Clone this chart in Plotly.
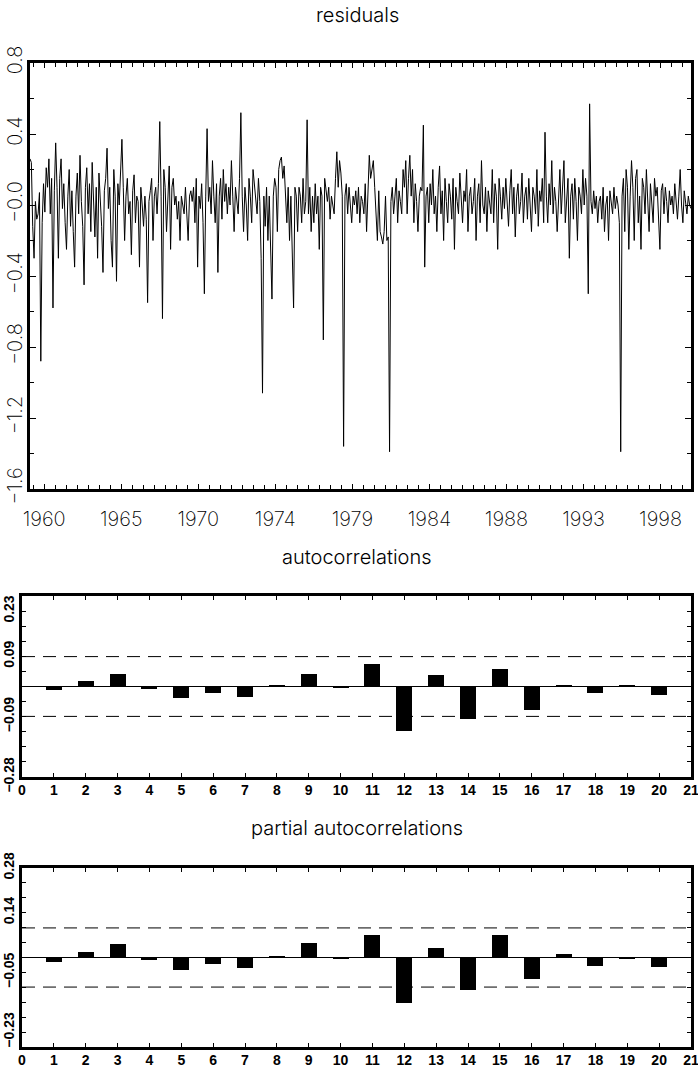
import plotly.graph_objects as go

# ---------------- data ----------------
START_YEAR = 1959
START_MONTH_OFFSET = 1.5  # months after Jan 1959 of first observation

residuals = [
    0.26, 0.24, -0.12, -0.30, 0.02, -0.08, -0.05, 0.07, -0.88, -0.10,
    0.12, -0.04, 0.21, 0.10, 0.26, -0.05, 0.15, -0.58, 0.08, 0.35,
    0.10, -0.30, 0.15, 0.26, -0.02, 0.12, -0.10, -0.25, 0.05, 0.20,
    -0.12, 0.08, -0.15, -0.35, 0.05, 0.18, -0.05, 0.28, 0.02, -0.12,
    -0.45, 0.10, 0.21, -0.05, 0.12, -0.15, 0.24, 0.00, -0.18, 0.10,
    -0.30, 0.18, 0.05, -0.12, -0.38, 0.08, 0.15, 0.32, -0.02, 0.10,
    -0.20, -0.35, 0.20, 0.05, -0.43, 0.12, 0.00, 0.22, 0.37, 0.10,
    -0.20, 0.05, 0.15, -0.05, 0.02, -0.28, 0.08, 0.17, -0.10, 0.05,
    0.02, -0.35, 0.10, 0.00, -0.12, 0.05, -0.08, -0.55, 0.02, 0.08,
    0.15, -0.20, 0.05, 0.10, -0.05, 0.12, 0.47, 0.05, -0.64, 0.20,
    0.10, -0.15, 0.05, 0.22, -0.25, 0.10, 0.15, 0.00, 0.05, -0.08,
    0.02, -0.20, 0.05, 0.00, -0.05, 0.10, -0.02, -0.20, 0.05, 0.08,
    0.02, 0.10, -0.10, 0.15, -0.35, 0.05, -0.02, 0.12, -0.10, -0.50,
    0.05, 0.43, 0.02, 0.10, -0.05, 0.25, 0.05, -0.10, 0.12, -0.38,
    0.05, 0.15, -0.08, 0.20, 0.02, 0.12, -0.05, 0.10, 0.00, 0.25,
    0.05, -0.15, 0.10, 0.02, -0.05, 0.15, 0.52, 0.05, -0.15, 0.10,
    0.00, -0.20, 0.15, 0.05, -0.10, 0.20, 0.10, 0.05, -0.05, 0.15,
    0.02, -0.30, -1.06, 0.05, -0.12, 0.10, -0.20, 0.05, -0.35, -0.53,
    0.05, 0.15, 0.10, -0.15, 0.20, 0.25, 0.27, 0.15, 0.22, 0.05,
    -0.10, 0.10, -0.20, 0.05, -0.25, -0.58, 0.10, 0.05, -0.15, 0.10,
    0.05, -0.10, 0.15, -0.05, 0.02, 0.48, -0.05, 0.10, -0.15, 0.05,
    -0.10, 0.12, -0.05, 0.05, -0.25, 0.10, 0.05, -0.76, 0.15, 0.08,
    0.02, 0.10, -0.08, 0.05, 0.00, -0.05, 0.15, 0.30, 0.10, 0.25,
    0.18, 0.05, -1.36, 0.05, 0.12, -0.05, 0.10, 0.02, -0.10, 0.05,
    0.00, 0.08, -0.05, 0.10, -0.10, 0.05, 0.02, -0.05, 0.12, -0.15,
    0.05, 0.28, 0.15, 0.20, 0.25, 0.10, -0.05, -0.20, 0.08, -0.15,
    -0.18, -0.22, -0.15, 0.05, -0.20, -0.18, -1.39, 0.02, 0.10, -0.05,
    0.05, 0.15, -0.10, 0.08, 0.02, -0.05, 0.20, 0.10, 0.25, -0.05,
    0.15, 0.28, 0.05, 0.20, -0.10, 0.12, 0.02, -0.15, 0.05, 0.10,
    0.08, 0.45, -0.35, 0.05, 0.10, -0.10, 0.12, 0.00, 0.20, -0.05,
    0.05, -0.15, 0.10, 0.22, -0.05, 0.08, -0.20, 0.15, 0.02, -0.10,
    0.12, 0.05, -0.08, 0.15, -0.25, 0.10, 0.02, -0.05, 0.18, 0.00,
    -0.10, 0.08, 0.02, 0.20, -0.15, 0.05, 0.10, -0.05, 0.02, 0.15,
    -0.20, 0.05, 0.12, -0.10, 0.25, 0.00, -0.05, 0.10, -0.15, 0.08,
    0.02, -0.05, 0.20, -0.10, 0.12, 0.05, -0.25, 0.15, 0.05, -0.08,
    0.10, -0.02, 0.15, 0.00, -0.12, 0.08, 0.20, -0.05, 0.10, -0.18,
    0.05, 0.12, -0.05, 0.02, 0.18, -0.10, 0.05, 0.10, -0.08, 0.15,
    0.00, -0.15, 0.10, 0.05, -0.05, 0.20, -0.12, 0.08, 0.02, 0.15,
    -0.10, 0.41, 0.05, -0.10, 0.12, 0.00, 0.25, -0.05, 0.10, 0.02,
    -0.15, 0.08, 0.20, -0.05, 0.10, 0.25, -0.10, 0.05, 0.15, -0.30,
    0.05, 0.12, -0.08, 0.15, 0.02, -0.20, 0.10, 0.05, -0.05, 0.20,
    0.00, 0.15, 0.05, -0.50, 0.57, 0.02, -0.05, 0.08, -0.02, 0.05,
    -0.10, 0.02, 0.05, -0.08, 0.10, -0.15, 0.00, 0.05, -0.20, 0.08,
    0.02, -0.05, 0.10, -0.02, 0.05, 0.00, -0.10, -1.39, 0.05, 0.15,
    -0.15, 0.20, 0.10, -0.25, 0.05, 0.25, 0.10, -0.20, 0.15, 0.20,
    -0.10, 0.05, -0.25, 0.15, 0.10, -0.05, 0.20, 0.05, -0.15, 0.12,
    0.02, -0.10, 0.15, 0.05, 0.10, -0.05, -0.25, 0.08, 0.12, -0.05,
    0.10, 0.02, -0.10, 0.08, 0.00, 0.05, -0.05, 0.12, 0.02, -0.08,
    0.05, 0.20, 0.00, -0.10, 0.08, 0.02, -0.05, 0.05, 0.00, -0.02,
]

year_tick_values = [1960.0, 1964.75, 1969.5, 1974.25, 1979.0, 1983.75, 1988.5, 1993.25, 1998.0]
year_tick_labels = ["1960", "1965", "1970", "1974", "1979", "1984", "1988", "1993", "1998"]
resid_tick_values = [-1.6, -1.2, -0.8, -0.4, 0.0, 0.4, 0.8]
resid_tick_labels = ["\u22121.6", "\u22121.2", "\u22120.8", "\u22120.4", "\u22120.0", "0.4", "0.8"]

lags = list(range(1, 21))
acf = [-0.012, 0.018, 0.040, -0.008, -0.037, -0.019, -0.033, 0.002, 0.039, -0.002,
       0.071, -0.137, 0.036, -0.100, 0.055, -0.072, 0.006, -0.020, 0.003, -0.026]
pacf = [-0.014, 0.017, 0.041, -0.008, -0.040, -0.021, -0.032, 0.003, 0.044, -0.002,
        0.069, -0.141, 0.031, -0.103, 0.071, -0.068, 0.010, -0.026, -0.004, -0.031]
conf_bound = 0.0925
corr_limit = 0.28
corr_step = 0.28 / 6
acf_labels = {5: "0.23", 2: "0.09", -2: "\u22120.09", -6: "\u22120.28"}
pacf_labels = {6: "0.28", 3: "0.14", -1: "\u22120.05", -5: "\u22120.23"}

# ---------------- figure ----------------
W, H = 698, 1067
def px_x(v):
    return v / W
def px_y(v):
    return 1 - v / H

times = [START_YEAR + (i + START_MONTH_OFFSET) / 12 for i in range(len(residuals))]

fig = go.Figure()
fig.add_trace(go.Scatter(x=times, y=residuals, mode="lines",
                         line=dict(color="black", width=1), xaxis="x", yaxis="y",
                         showlegend=False, hoverinfo="skip"))
fig.add_trace(go.Bar(x=lags, y=acf, width=0.5, marker=dict(color="black", line=dict(width=0)),
                     xaxis="x2", yaxis="y2", showlegend=False))
fig.add_trace(go.Bar(x=lags, y=pacf, width=0.5, marker=dict(color="black", line=dict(width=0)),
                     xaxis="x3", yaxis="y3", showlegend=False))

THIN = "Inter, Roboto, Lato, Liberation Sans, sans-serif"
thin_font = dict(family=THIN, size=20, color="black", weight=200)
bold_font = dict(family="Liberation Sans, Arial, sans-serif", size=14, color="black", weight="bold")

corr_vals = [k * corr_step for k in range(-6, 7)]
def corr_text(labels):
    return [labels.get(k, "") for k in range(-6, 7)]

common_corr_x = dict(range=[-0.0001, 21.0001], tickvals=list(range(0, 22)),
                     ticktext=[str(v) for v in range(0, 22)],
                     ticks="inside", ticklen=4, tickwidth=1, tickcolor="black",
                     showline=True, linecolor="black", linewidth=2.5, mirror="allticks",
                     showgrid=False, zeroline=False, tickfont=bold_font, ticklabelstandoff=-2,
                     ticklabeloverflow="allow", automargin=False)
common_corr_y = dict(range=[-corr_limit, corr_limit], tickvals=corr_vals,
                     ticks="inside", ticklen=4, tickwidth=1, tickcolor="black",
                     showline=True, linecolor="black", linewidth=2.5, mirror="allticks",
                     showgrid=False, zeroline=False, tickfont=bold_font, tickangle=-90,
                     ticklabelstandoff=0, ticklabeloverflow="allow", automargin=False)

fig.update_layout(
    template="none",
    width=W, height=H, margin=dict(l=0, r=0, t=0, b=0, pad=0, autoexpand=False),
    paper_bgcolor="white", plot_bgcolor="white", bargap=0, showlegend=False,
    xaxis=dict(domain=[px_x(30), px_x(691)], range=[times[0], times[-1]], anchor="y",
               tickvals=year_tick_values, ticktext=year_tick_labels,
               ticks="inside", ticklen=5, tickwidth=1, tickcolor="black",
               minor=dict(tick0=1960, dtick=4.75 / 7, ticks="inside", ticklen=4, tickwidth=1,
                          tickcolor="black", showgrid=False),
               showline=True, linecolor="black", linewidth=3, mirror="allticks",
               showgrid=False, zeroline=False, tickfont=thin_font, ticklabelstandoff=10,
               ticklabeloverflow="allow", automargin=False),
    yaxis=dict(domain=[px_y(489), px_y(63)], range=[-1.6, 0.8], anchor="x",
               tickvals=resid_tick_values, ticktext=resid_tick_labels,
               ticks="inside", ticklen=6, tickwidth=1, tickcolor="black",
               minor=dict(dtick=0.2, tick0=0, ticks="inside", ticklen=4, tickwidth=1,
                          tickcolor="black", showgrid=False),
               showline=True, linecolor="black", linewidth=2.5, mirror="allticks",
               showgrid=False, zeroline=False, tickfont=thin_font, tickangle=-90,
               ticklabelstandoff=-3, ticklabeloverflow="allow", automargin=False),
    xaxis2=dict(domain=[px_x(22), px_x(691)], anchor="y2", **common_corr_x),
    yaxis2=dict(domain=[px_y(777), px_y(596)], anchor="x2", ticktext=corr_text(acf_labels), **common_corr_y),
    xaxis3=dict(domain=[px_x(22), px_x(691)], anchor="y3", **common_corr_x),
    yaxis3=dict(domain=[px_y(1047), px_y(868)], anchor="x3", ticktext=corr_text(pacf_labels), **common_corr_y),
)

for xa, ya in (("x2", "y2"), ("x3", "y3")):
    fig.add_shape(type="line", xref=f"{xa} domain", yref=ya, x0=0, x1=1, y0=0, y1=0,
                  line=dict(color="black", width=1))
    for b in (conf_bound, -conf_bound):
        fig.add_shape(type="line", xref=f"{xa} domain", yref=ya, x0=0, x1=1, y0=b, y1=b,
                      line=dict(color="black", width=1, dash="13px,8px"))

titles = [("residuals", 15), ("autocorrelations", 557), ("partial autocorrelations", 828)]
for text, ypix in titles:
    fig.add_annotation(text=text, xref="paper", yref="paper", x=px_x(357), y=px_y(ypix),
                       showarrow=False, font=dict(family=THIN, size=20, color="black", weight=300),
                       xanchor="center", yanchor="middle")

fig.write_html("out.html", config={"displayModeBar": False},
               post_script="document.body.style.margin='0';document.body.style.overflow='hidden';")
